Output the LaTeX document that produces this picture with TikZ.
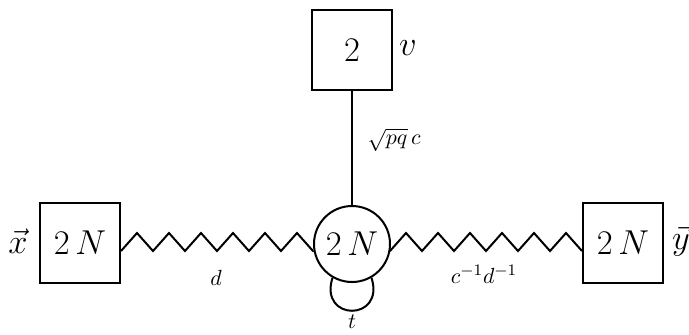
\documentclass[tikz,border=0pt]{standalone}
\usepackage{amsmath}
\usepackage{tikz}

\begin{document}
\begin{tikzpicture}[x=0.5pt, y=-0.5pt, line width=1pt, line join=miter,
    flavor/.style={draw, rectangle, minimum size=40pt, inner sep=0pt, font=\fontsize{17}{20}\selectfont},
    gauge/.style={draw, circle, minimum size=38pt, inner sep=0pt, font=\fontsize{17}{20}\selectfont},
    big/.style={font=\fontsize{17}{20}\selectfont},
    lbl/.style={font=\fontsize{11}{13}\selectfont}]

    \useasboundingbox (0,0) rectangle (689,334);

    % nodes
    \node [flavor] (xl) at (80,243) {$2\,N$};
    \node [gauge] (ctr) at (352,244) {$2\,N$};
    \node [flavor] (yr) at (623,243) {$2\,N$};
    \node [flavor] (top) at (352,50) {$2$};

    % labels
    \node [big] (xv) at (18,241) {$\vec{x}$};
    \node [big] (yv) at (681,241) {$\vec{y}$};
    \node [big] (vv) at (408,48) {$v$};
    \node [lbl] (dl) at (216,278) {$d$};
    \node [lbl] (cd) at (484,274) {$c^{-1}d^{-1}$};
    \node [lbl, anchor=west] (pq) at (360,140) {$\sqrt{pq}\,c$};
    \node [lbl] (tl) at (352,322) {$t$};

    % 
    % Connections
    \draw ([yshift=-4pt]xl.east) \foreach \i in {1,...,6} {-- ++(8pt,9pt) -- ++(8pt,-9pt)} -- (ctr);
    \draw ([yshift=-4pt]yr.west) \foreach \i in {1,...,6} {-- ++(-8pt,9pt) -- ++(-8pt,-9pt)} -- (ctr);
    \draw (top) -- (ctr);
    \draw (ctr.-120) .. controls +(-7pt,-22pt) and +(7pt,-22pt) .. (ctr.-60);
\end{tikzpicture}
\end{document}
